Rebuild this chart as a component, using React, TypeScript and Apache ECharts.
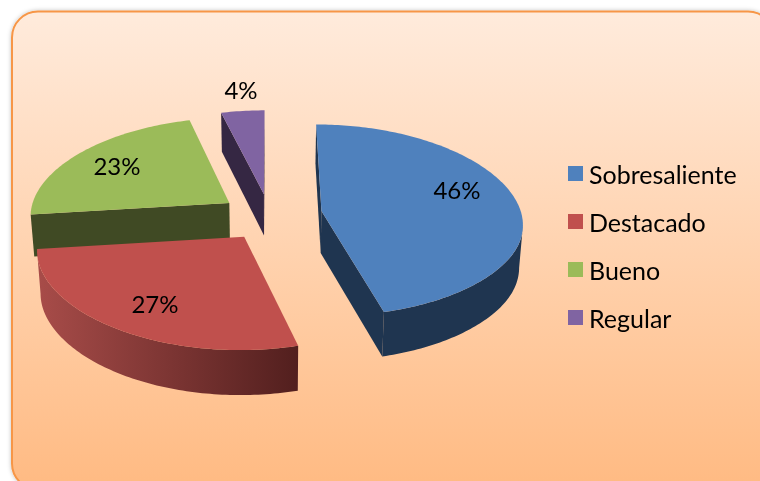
import React, { useEffect, useRef } from "react";
import * as echarts from "echarts";

const categories = ["Sobresaliente", "Destacado", "Bueno", "Regular"];
const values = [46, 27, 23, 4];
const colors = ["#4F81BD", "#C0504D", "#9BBB59", "#8064A2"];

const FONT = "Lato, 'Open Sans', sans-serif";
const X0 = 271, Y0 = 215, RX = 200, RY = 94, EXPLODE = 0.25, PX = 0.12, PY = 0.08, NEAR = 15;
const DEPTH = 42;
const labelAt = [[457, 189], [155, 303], [117, 165], [241, 89]];
const nudge = [[1, -1], [2, 2], [-1, 1], [-1, 2]];
const zOrder = [3, 4, 2, 1];
const wallFill: any[] = [
  "#1F3550",
  { type: "linear", x: 0, y: 0, x2: 1, y2: 0, colorStops: [{ offset: 0, color: "#A84C49" }, { offset: 1, color: "#521F1E" }] },
  "#404A24",
  "#352743",
];

const total = values.reduce((a, b) => a + b, 0);

function project(wx: number, wv: number, n: number[]) {
  const sx = 1 / (1 - PX * wv);
  const sy = 1 / (1 - PY * wv);
  const near = Math.max(0, wv - 0.5);
  return [X0 + RX * wx * sx + n[0], Y0 + RY * wv * sy + NEAR * near * near + n[1], wv];
}
function drop(p: number[]) {
  return [X0 + (p[0] - X0) * 0.985, p[1] + DEPTH * (1 + 0.06 * p[2])];
}
function xy(p: number[]) {
  return [p[0], p[1]];
}

function renderSlice(params: any, api: any) {
  const i = params.seriesIndex;
  const before = values.slice(0, i).reduce((a, b) => a + b, 0);
  const a0 = (before / total) * Math.PI * 2;
  const a1 = a0 + (api.value(0) / total) * Math.PI * 2;
  const mid = (a0 + a1) / 2;
  const ox = EXPLODE * Math.sin(mid), ov = -EXPLODE * Math.cos(mid);
  const apex = project(ox, ov, nudge[i]);
  const steps = Math.max(6, Math.round(((a1 - a0) * 180) / Math.PI));
  const arc: number[][] = [];
  for (let k = 0; k <= steps; k++) {
    const a = a0 + ((a1 - a0) * k) / steps;
    arc.push(project(ox + Math.sin(a), ov - Math.cos(a), nudge[i]));
  }
  const children: any[] = [];
  const quad = (pts: number[][]) => {
    const bottom = pts.map(drop).reverse();
    children.push({
      type: "polygon",
      shape: { points: [...pts.map(xy), ...bottom] },
      style: { fill: wallFill[i] },
    });
  };
  const first = arc[0], last = arc[arc.length - 1];
  if (first[0] < apex[0]) quad([apex, first]);
  if (apex[0] < last[0]) quad([last, apex]);
  let run: number[][] = [];
  for (let k = 0; k < arc.length - 1; k++) {
    if (arc[k + 1][0] < arc[k][0]) {
      if (!run.length) run.push(arc[k]);
      run.push(arc[k + 1]);
    } else if (run.length) {
      quad(run);
      run = [];
    }
  }
  if (run.length) quad(run);
  children.push({
    type: "polygon",
    shape: { points: [xy(apex), ...arc.map(xy)] },
    style: { fill: colors[i] },
  });
  children.push({
    type: "text",
    style: {
      text: `${Math.round((api.value(0) / total) * 100)}%`,
      x: labelAt[i][0],
      y: labelAt[i][1],
      fill: "#000",
      font: `24px ${FONT}`,
      align: "center",
      verticalAlign: "middle",
    },
  });
  return { type: "group", children };
}

export default function App() {
  const ref = useRef<HTMLDivElement>(null);
  useEffect(() => {
    const chart = echarts.init(ref.current!, undefined, { renderer: "svg" });
    chart.setOption({
      animation: false,
      graphic: [
        {
          type: "rect",
          z: -10,
          shape: { x: 12, y: 11.5, width: 762, height: 478, r: 26 },
          style: {
            fill: {
              type: "linear", x: 0, y: 0, x2: 0, y2: 1,
              colorStops: [{ offset: 0, color: "#FFEBDC" }, { offset: 1, color: "#FFBA82" }],
            },
            stroke: "#F79646",
            lineWidth: 2,
            shadowBlur: 4,
            shadowColor: "rgba(0,0,0,0.25)",
          },
        },
      ],
      legend: {
        data: categories,
        orient: "vertical",
        left: 563,
        top: 155,
        icon: "rect",
        itemWidth: 15,
        itemHeight: 15,
        itemGap: 21,
        textStyle: { color: "#000", fontFamily: FONT, fontSize: 25, padding: [0, 0, 0, 1], lineHeight: 27 },
      },
      series: categories.map((name, i) => ({
        type: "custom",
        name,
        coordinateSystem: "none",
        z: zOrder[i],
        itemStyle: { color: colors[i] },
        renderItem: renderSlice,
        data: [[values[i]]],
      })),
    });
    return () => chart.dispose();
  }, []);
  return <div ref={ref} style={{ position: "fixed", left: 0, top: 0, width: 760, height: 481 }} />;
}
